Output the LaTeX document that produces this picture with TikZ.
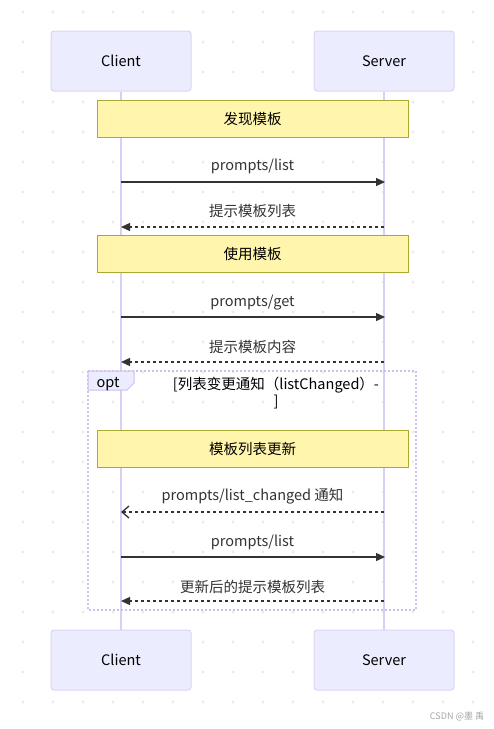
\documentclass[tikz,border=0pt]{standalone}
\usepackage{fontspec}
\setmainfont{Noto Sans CJK SC}
\usetikzlibrary{arrows.meta}
\definecolor{actorfill}{HTML}{ECECFF}
\definecolor{actorline}{HTML}{DDD3F6}
\definecolor{lifeline}{HTML}{D9CEF5}
\definecolor{notefill}{HTML}{FFF5AD}
\definecolor{noteline}{HTML}{AAAA33}
\definecolor{arrowc}{HTML}{333333}
\definecolor{dotc}{HTML}{EAEAEA}
\definecolor{optline}{HTML}{CDBEF0}
\tikzset{
  actor/.style={draw=actorline, fill=actorfill, line width=1pt, rounded corners=3pt,
    minimum width=140pt, minimum height=60pt, inner sep=0pt,
    font=\fontsize{14.5}{16}\selectfont, text=black},
  note/.style={draw=noteline, fill=notefill, line width=1pt,
    minimum width=311pt, minimum height=37pt, inner sep=0pt,
    font=\fontsize{14.5}{16}\selectfont, text=black},
  msglabel/.style={font=\fontsize{14.5}{16}\selectfont, text=arrowc, inner sep=0pt},
  lifeline/.style={draw=lifeline, line width=1.6pt},
  sync/.style={draw=arrowc, line width=1.3pt, -{Triangle[length=9pt,width=8pt]}},
  reply/.style={draw=arrowc, line width=1.3pt, dash pattern=on 3pt off 3pt, -{Triangle[length=9pt,width=8pt]}},
  async/.style={draw=arrowc, line width=1.3pt, dash pattern=on 3pt off 3pt, -{Straight Barb[length=7pt,width=12pt]}},
}
\begin{document}
\begin{tikzpicture}[x=1pt,y=-1pt]
\useasboundingbox (0,0) rectangle (494,729);
\fill[white] (0,0) rectangle (494,729);
\foreach \i in {0,...,15} {\foreach \j in {0,...,23} {\fill[dotc] (23+30*\i,12+30*\j) circle (1.6);}}

% actors
\node[actor] (ct) at (121,61) {\raisebox{-1pt}{Client}};
\node[actor] (st) at (384,61) {\raisebox{-1pt}{Server}};
\node[actor] (cb) at (121,660) {\raisebox{-1pt}{Client}};
\node[actor] (sb) at (384,660) {\raisebox{-1pt}{Server}};

% lifelines
\draw[lifeline] (ct.south) -- (cb.north);
\draw[lifeline] (st.south) -- (sb.north);

% opt frame
\draw[draw=optline, line width=1.5pt, dash pattern=on 2pt off 2pt] (88,371) rectangle (416,610);
\filldraw[fill=actorfill, draw=optline, line width=1pt] (88,371) -- (134,371) -- (134,383) -- (127,390) -- (88,390) -- cycle;
\node[msglabel, text=black] (optlbl) at (108,384) {opt};
\node[msglabel, text=black, align=center, font=\fontsize{14.5}{17}\selectfont] (cond) at (276,393.5) {[列表变更通知（listChanged）-\\]};

% notes
\node[note] (n1) at (252.5,118.5) {\raisebox{-1.5pt}{发现模板}};
\node[note] (n2) at (252.5,254) {\raisebox{-1.5pt}{使用模板}};
\node[note] (n3) at (252.5,449) {\raisebox{-1.5pt}{模板列表更新}};

% message anchor coordinates
\coordinate (c1) at (121,182); \coordinate (s1) at (385,182);
\coordinate (c2) at (121,227); \coordinate (s2) at (384,227);
\coordinate (c3) at (121,317); \coordinate (s3) at (385,317);
\coordinate (c4) at (121,362); \coordinate (s4) at (384,362);
\coordinate (c5) at (121,512); \coordinate (s5) at (384,512);
\coordinate (c6) at (121,557); \coordinate (s6) at (385,557);
\coordinate (c7) at (121,601); \coordinate (s7) at (384,601);

\draw[sync] (c1) -- (s1);
\node[msglabel] (l1) at (252.5,166.5) {prompts/list};
\draw[reply] (s2) -- (c2);
\node[msglabel] (l2) at (252.5,211.5) {提示模板列表};
\draw[sync] (c3) -- (s3);
\node[msglabel] (l3) at (252.5,302.5) {prompts/get};
\draw[reply] (s4) -- (c4);
\node[msglabel] (l4) at (252.5,346.5) {提示模板内容};
\draw[async] (s5) -- (c5);
\node[msglabel] (l5) at (252.5,496.5) {prompts/list\_changed 通知};
\draw[sync] (c6) -- (s6);
\node[msglabel] (l6) at (252.5,542.5) {prompts/list};
\draw[reply] (s7) -- (c7);
\node[msglabel] (l7) at (252.5,586.5) {更新后的提示模板列表};

\node[text=black!35, font=\fontsize{9}{10}\selectfont, inner sep=0pt] (wm) at (457,717) {CSDN @墨 禹};
\end{tikzpicture}
\end{document}
